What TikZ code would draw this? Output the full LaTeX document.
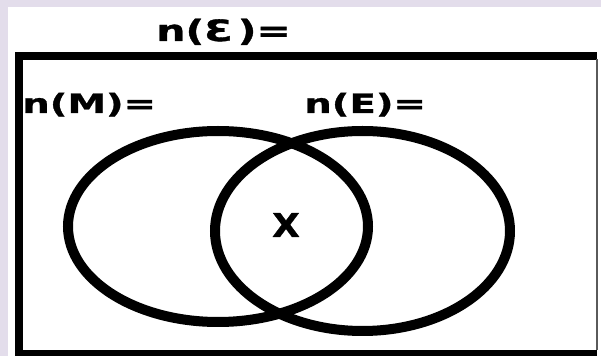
\documentclass[tikz,border=0pt]{standalone}
\usepackage{fontspec}
\usepackage{xcolor}
\setmainfont{DejaVu Sans}
\newfontfamily\lblfont[FakeStretch=1.45, FakeBold=1.2]{DejaVu Sans Bold}
\newfontfamily\topfont[FakeStretch=1.4, FakeBold=1.2]{DejaVu Sans Bold}
\newfontfamily\midfont[FakeStretch=1.1, FakeBold=1]{DejaVu Sans Bold}
\definecolor{cLav}{HTML}{E3DDEB}
\definecolor{cEdge}{HTML}{5A5A5A}

\begin{document}
\begin{tikzpicture}[
  x=0.75pt, y=-0.75pt,
  setlabel/.style={anchor=base west, inner sep=0pt, font=\lblfont\fontsize{20pt}{22pt}\selectfont},
  frame/.style={line width=6pt, draw=black},
  venn/.style={line width=7.5pt, draw=black},
]
\useasboundingbox (0,0) rectangle (601,356);
\clip (0,0) rectangle (601,356);

% page background
\fill[cLav] (0,0) rectangle (601,356);
\fill[white] (8,7) rectangle (601,356);

% universal set
\draw[frame] (597,56) -- (18.5,56) -- (18.5,354) -- (597,354);
\draw[cEdge, line width=1.2pt] (597,59) -- (597,350);

% the two sets
\draw[venn] (218,226.5) ellipse [x radius=150, y radius=95.5];
\draw[venn] (362.5,231) ellipse [x radius=147.5, y radius=100];

\node[setlabel, font=\topfont\fontsize{22pt}{24pt}\selectfont] (nU) at (156,41) {n(Ɛ\,)=};
\node[setlabel] (nM) at (22,113) {n(M)=};
\node[setlabel] (nE) at (304,113) {n(E)=};
\node[inner sep=0pt, font=\midfont\fontsize{24.5pt}{26pt}\selectfont] (both) at (286,225) {X};

\end{tikzpicture}
\end{document}
